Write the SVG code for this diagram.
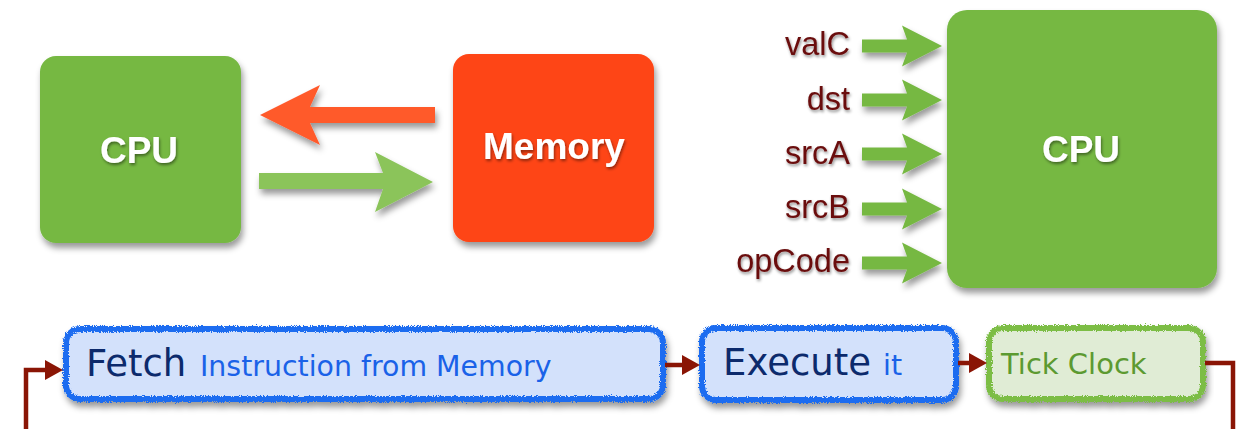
<svg xmlns="http://www.w3.org/2000/svg" xmlns:xlink="http://www.w3.org/1999/xlink" width="1245" height="429" viewBox="0 0 1245 429">
<style>
.big{font-family:"Liberation Sans",Arial,sans-serif;font-weight:bold;font-size:37px;fill:#fff;text-anchor:middle}
.lbl{font-family:"Liberation Sans",Arial,sans-serif;font-size:32.5px;fill:#6a0d0d;text-anchor:end}
.step{font-family:"DejaVu Sans",sans-serif}
.main{font-size:37px;fill:#0c2a6c}
.sub{font-size:28.4px;fill:#1a62e8}
.tick{font-size:29px;fill:#5c9a31}
.conn{fill:none;stroke:#8a1505;stroke-width:4.5}
.bluebox{fill:#d3e1fb;stroke:#1a6cf0;stroke-width:6}
.greenbox{fill:#e0ecd5;stroke:#7bbd45;stroke-width:6}
</style>
<defs>
<filter id="shadow" x="-10%" y="-10%" width="125%" height="130%">
<feDropShadow dx="2" dy="5" stdDeviation="3" flood-color="#000" flood-opacity="0.4"/>
</filter>
<filter id="tshadow" x="-10%" y="-20%" width="125%" height="150%">
<feDropShadow dx="1" dy="2" stdDeviation="1.5" flood-color="#000" flood-opacity="0.45"/>
</filter>
<filter id="rough" x="-5%" y="-15%" width="110%" height="140%">
<feTurbulence type="fractalNoise" baseFrequency="1.1" numOctaves="2" seed="3" result="n"/>
<feDisplacementMap in="SourceGraphic" in2="n" scale="4.5" xChannelSelector="R" yChannelSelector="G" result="d"/>
<feDropShadow in="d" dx="2" dy="5" stdDeviation="3" flood-color="#000" flood-opacity="0.4"/>
</filter>
<marker id="head" viewBox="0 0 18 20" refX="6" refY="10" markerWidth="18" markerHeight="20" markerUnits="userSpaceOnUse" orient="auto">
<path d="M0,0 L18,10 L0,20 z" fill="#8a1505"/>
</marker>
<path id="inarrow" d="M-80,-6.5 L-35,-6.5 L-40,-20.5 L0,0 L-40,20.5 L-35,6.5 L-80,6.5 z" fill="#76b843"/>
</defs>

<g id="cpu-left" filter="url(#shadow)">
<rect x="40" y="56" width="201" height="187" rx="16" fill="#76b843"/>
</g>
<text class="big" x="139" y="163" filter="url(#tshadow)">CPU</text>

<g id="memory" filter="url(#shadow)">
<rect x="453" y="54" width="201" height="188" rx="16" fill="#fe4514"/>
</g>
<text class="big" x="554" y="159" filter="url(#tshadow)">Memory</text>

<g id="cpu-right" filter="url(#shadow)">
<rect x="947" y="10" width="270" height="278" rx="20" fill="#76b843"/>
</g>
<text class="big" x="1081" y="162" filter="url(#tshadow)">CPU</text>

<g id="labels" filter="url(#tshadow)">
<text id="valC" class="lbl" x="850" y="55">valC</text>
<text id="dst" class="lbl" x="850" y="110">dst</text>
<text id="srcA" class="lbl" x="850" y="164">srcA</text>
<text id="srcB" class="lbl" x="850" y="218">srcB</text>
<text id="opCode" class="lbl" x="850" y="272">opCode</text>
</g>

<g id="fetch">
<rect class="bluebox" x="66" y="329" width="597" height="70" rx="14" filter="url(#rough)"/>
<text class="step main" x="86" y="376">Fetch</text>
<text class="step sub" x="200" y="376">Instruction from Memory</text>
</g>
<g id="execute">
<rect class="bluebox" x="702" y="328" width="254" height="72" rx="14" filter="url(#rough)"/>
<text class="step main" x="723" y="375">Execute</text>
<text class="step sub" x="883" y="375">it</text>
</g>
<g id="tick">
<rect class="greenbox" x="989" y="328" width="214" height="71" rx="14" filter="url(#rough)"/>
<text class="step tick" x="1001" y="374">Tick Clock</text>
</g>

<g id="connectors">
<g filter="url(#shadow)">
<polygon points="435,107 435,123 310,123 320,145 260,115 320,85 310,107" fill="#ff5a2c"/>
<polygon points="259,173 383,173 375,152 433,182 375,212 383,189 259,189" fill="#8bc45a"/>
<use xlink:href="#inarrow" x="942" y="46"/>
<use xlink:href="#inarrow" x="942" y="100"/>
<use xlink:href="#inarrow" x="942" y="154"/>
<use xlink:href="#inarrow" x="942" y="209"/>
<use xlink:href="#inarrow" x="942" y="263"/>
</g>
<path class="conn" d="M26,429 V370 H51" marker-end="url(#head)"/>
<path class="conn" d="M665,365 H688" marker-end="url(#head)"/>
<path class="conn" d="M958,363 H975" marker-end="url(#head)"/>
<path class="conn" d="M1205,363 H1233 V429"/>
</g>
</svg>
